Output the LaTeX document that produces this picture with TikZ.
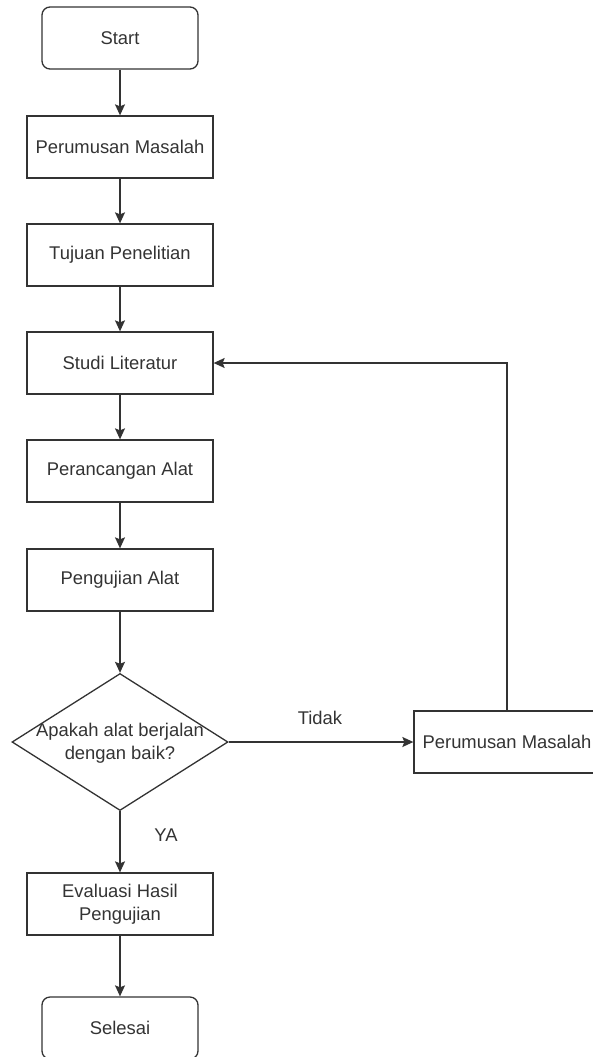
\documentclass[tikz,border=0pt]{standalone}
\usepackage{fontspec}
\setmainfont{Liberation Sans}
\usetikzlibrary{shapes.geometric,arrows.meta}
\definecolor{ink}{HTML}{333333}
\begin{document}
\begin{tikzpicture}[x=1pt,y=-1pt,
  every node/.style={font=\fontsize{18.4}{22.5}\selectfont, text=ink},
  procbox/.style={draw=ink, line width=1.3pt, rectangle, minimum width=186pt, minimum height=62pt, inner sep=0pt, align=center},
  termbox/.style={draw=ink, line width=1.3pt, rectangle, rounded corners=8pt, minimum width=156pt, minimum height=62pt, inner sep=0pt},
  decbox/.style={draw=ink, line width=1.3pt, diamond, minimum width=216pt, minimum height=137pt, inner sep=0pt},
  flow/.style={draw=ink, line width=1.3pt, -{Stealth[length=11pt,width=10pt,inset=2pt]}},
  lbl/.style={inner sep=0pt}
]
\useasboundingbox (0,0) rectangle (592,1057);
\node[termbox] (start) at (120,38) {Start};
\node[procbox] (pm) at (120,147) {Perumusan Masalah};
\node[procbox] (tp) at (120,255) {Tujuan Penelitian};
\node[procbox] (sl) at (120,363) {Studi Literatur};
\node[procbox] (pa) at (120,471) {Perancangan Alat};
\node[procbox] (pg) at (120,580) {Pengujian Alat};
\node[decbox] (dec) at (120,742) {};
\node[lbl, align=center] (dectext) at (120,743) {Apakah alat berjalan\\dengan baik?};
\node[procbox] (pm2) at (507,742) {Perumusan Masalah};
\node[procbox] (ev) at (120,904) {Evaluasi Hasil\\Pengujian};
\node[termbox] (sel) at (120,1028) {Selesai};
\node[lbl] (tidak) at (320,718) {Tidak};
\node[lbl] (ya) at (166,835) {YA};

\draw[flow] (start) -- (pm);
\draw[flow] (pm) -- (tp);
\draw[flow] (tp) -- (sl);
\draw[flow] (sl) -- (pa);
\draw[flow] (pa) -- (pg);
\draw[flow] (pg) -- (dec);
\draw[flow] (dec.east) -- (pm2.west);
\draw[flow] (pm2.north) |- (sl.east);
\draw[flow] (dec.south) -- (ev.north);
\draw[flow] (ev) -- (sel);
\end{tikzpicture}
\end{document}
